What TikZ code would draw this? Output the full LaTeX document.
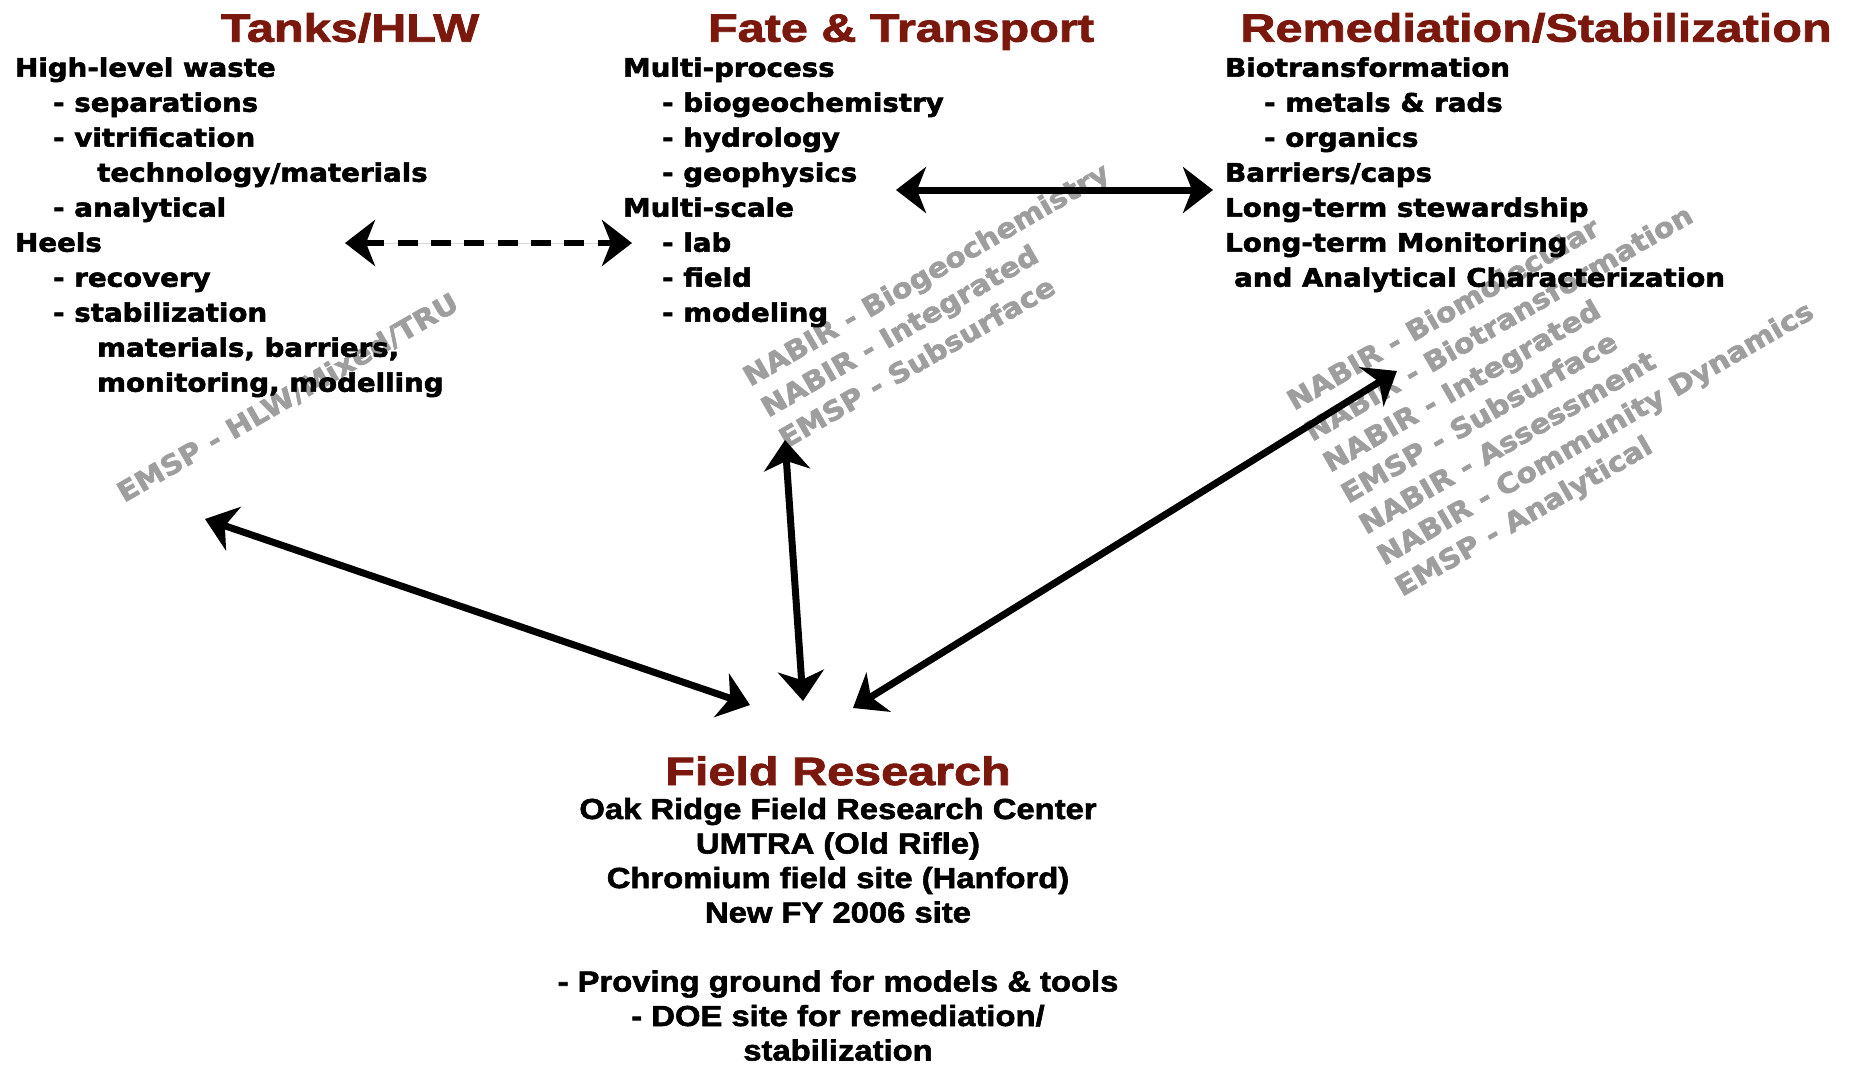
\documentclass[tikz,border=0pt]{standalone}
\usepackage{fontspec}
\usetikzlibrary{arrows.meta}
\newfontfamily\listfont[FakeStretch=1.085,BoldFeatures={FakeBold=2.2}]{DejaVu Sans}
\newfontfamily\headfont[FakeStretch=1.23,BoldFeatures={FakeBold=2}]{Liberation Sans}
\newfontfamily\botfont[FakeStretch=1.13,BoldFeatures={FakeBold=2}]{Liberation Sans}
\definecolor{headred}{RGB}{122,24,14}
\definecolor{graytext}{RGB}{158,158,158}
\tikzset{
  listtxt/.style={font=\listfont\bfseries\fontsize{25.5}{30}\selectfont, anchor=base west, inner sep=0pt},
  headtxt/.style={font=\headfont\bfseries\fontsize{39.5}{45}\selectfont, text=headred, anchor=base, inner sep=0pt},
  bottxt/.style={font=\botfont\bfseries\fontsize{29}{34}\selectfont, anchor=base, inner sep=0pt},
  graytxt/.style={font=\listfont\bfseries\fontsize{27.3}{30}\selectfont, text=graytext, anchor=base west, inner sep=0pt, rotate=30},
  tipshape/.tip={Stealth[length=30pt,width=46pt,inset=9pt]},
  link/.style={line width=7pt, tipshape-tipshape},
  dlink/.style={line width=6.5pt, tipshape-tipshape, dash pattern=on 20pt off 13.3pt},
}
\begin{document}
\begin{tikzpicture}[x=1pt,y=-1pt]
\useasboundingbox (0,0) rectangle (1856,1066);
\fill[white] (0,0) rectangle (1856,1066);

% gray program labels (behind)
\node[graytxt] (gL) at (124,503) {EMSP - HLW/Mixed/TRU};
\node[graytxt] (gM1) at (750,387) {NABIR - Biogeochemistry};
\node[graytxt] (gM2) at (768,418) {NABIR - Integrated};
\node[graytxt] (gM3) at (786,449) {EMSP - Subsurface};
\node[graytxt] (gR1) at (1294,411) {NABIR - Biomolecular};
\node[graytxt] (gR2) at (1312,442) {NABIR - Biotransformation};
\node[graytxt] (gR3) at (1330,473) {NABIR - Integrated};
\node[graytxt] (gR4) at (1348,504) {EMSP - Subsurface};
\node[graytxt] (gR5) at (1366,535) {NABIR - Assessment};
\node[graytxt] (gR6) at (1384,566) {NABIR - Community Dynamics};
\node[graytxt] (gR7) at (1402,597) {EMSP - Analytical};

% headings
\node[headtxt] (hT) at (350,41.7) {Tanks/HLW};
\node[headtxt] (hF) at (901,41.7) {Fate \& Transport};
\node[headtxt] (hR) at (1536,41.7) {Remediation/Stabilization};
\node[headtxt] (hB) at (838,785) {Field Research};

% left column
\node[listtxt] (l0) at (15,76.7) {High-level waste};
\node[listtxt] (l1) at (53,111.7) {- separations};
\node[listtxt] (l2) at (53,146.7) {- vitrification};
\node[listtxt] (l3) at (97,181.7) {technology/materials};
\node[listtxt] (l4) at (53,216.7) {- analytical};
\node[listtxt] (l5) at (15,251.7) {Heels};
\node[listtxt] (l6) at (53,286.7) {- recovery};
\node[listtxt] (l7) at (53,321.7) {- stabilization};
\node[listtxt] (l8) at (97,356.7) {materials, barriers,};
\node[listtxt] (l9) at (97,391.7) {monitoring, modelling};

% middle column
\node[listtxt] (m0) at (623,76.7) {Multi-process};
\node[listtxt] (m1) at (662,111.7) {- biogeochemistry};
\node[listtxt] (m2) at (662,146.7) {- hydrology};
\node[listtxt] (m3) at (662,181.7) {- geophysics};
\node[listtxt] (m4) at (623,216.7) {Multi-scale};
\node[listtxt] (m5) at (662,251.7) {- lab};
\node[listtxt] (m6) at (662,286.7) {- field};
\node[listtxt] (m7) at (662,321.7) {- modeling};

% right column
\node[listtxt] (r0) at (1225,76.7) {Biotransformation};
\node[listtxt] (r1) at (1264,111.7) {- metals \& rads};
\node[listtxt] (r2) at (1264,146.7) {- organics};
\node[listtxt] (r3) at (1225,181.7) {Barriers/caps};
\node[listtxt] (r4) at (1225,216.7) {Long-term stewardship};
\node[listtxt] (r5) at (1225,251.7) {Long-term Monitoring};
\node[listtxt] (r6) at (1234,286.7) {and Analytical Characterization};

% bottom block
\node[bottxt] (b0) at (838,819) {Oak Ridge Field Research Center};
\node[bottxt] (b1) at (838,853.5) {UMTRA (Old Rifle)};
\node[bottxt] (b2) at (838,888) {Chromium field site (Hanford)};
\node[bottxt] (b3) at (838,922.5) {New FY 2006 site};
\node[bottxt] (b4) at (838,991.5) {- Proving ground for models \& tools};
\node[bottxt] (b5) at (838,1026) {- DOE site for remediation/};
\node[bottxt] (b6) at (838,1060.5) {stabilization};

% connector end points
\coordinate (dL) at (345,243);
\coordinate (dR) at (632,243);
\coordinate (hL) at (896,190);
\coordinate (hR) at (1213,190);
\coordinate (tA) at (205,519);
\coordinate (fL) at (750,705);
\coordinate (tV) at (785,440);
\coordinate (fV) at (803,701);
\coordinate (fR) at (853,708);
\coordinate (rA) at (1397,371);

\draw[gray!30, line width=1pt] (dL) -- (dR);
\draw[dlink] (dL) -- (dR);
\draw[link] (hL) -- (hR);
\draw[link] (tA) -- (fL);
\draw[link] (tV) -- (fV);
\draw[link] (fR) -- (rA);
\end{tikzpicture}
\end{document}
